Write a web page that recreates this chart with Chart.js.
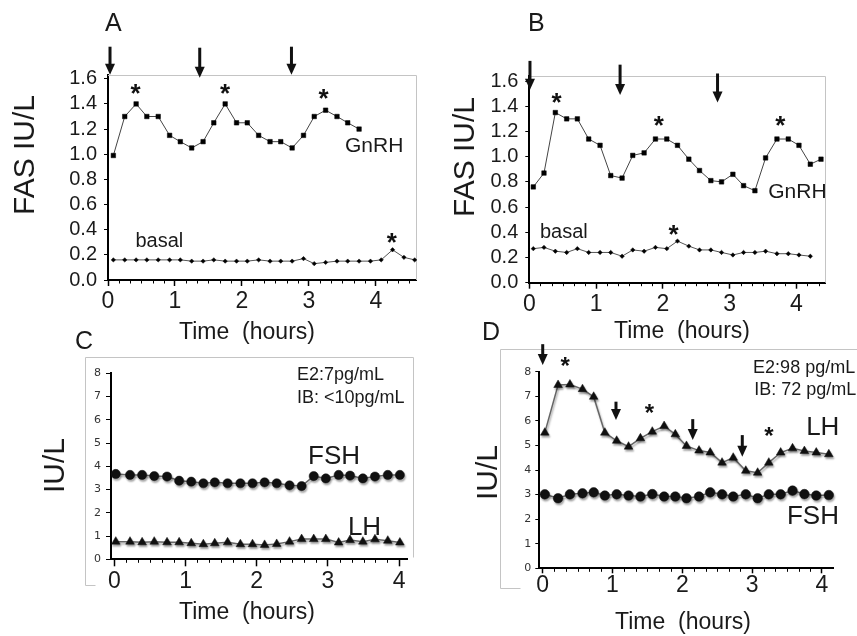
<!DOCTYPE html>
<html>
<head>
<meta charset="utf-8">
<script src="https://cdn.jsdelivr.net/npm/chart.js@4.4.1/dist/chart.umd.min.js"></script>
<style>
  body { margin: 0; background: #fff; width: 857px; height: 636px; position: relative; overflow: hidden; }
  canvas { position: absolute; }
</style>
</head>
<body>
<canvas id="cA" width="425" height="350" style="left:0;top:0"></canvas>
<canvas id="cB" width="432" height="350" style="left:425px;top:0"></canvas>
<canvas id="cC" width="425" height="318" style="left:0;top:318px"></canvas>
<canvas id="cD" width="432" height="318" style="left:425px;top:318px"></canvas>
<script>
// tick values
const xTicks = [0, 1, 2, 3, 4];
const yTicksAB = [0, 0.2, 0.4, 0.6, 0.8, 1.0, 1.2, 1.4, 1.6];
const yTicksCD = [0, 1, 2, 3, 4, 5, 6, 7, 8];

// A: FAS, GnRH vs basal (hours)
const timeA = [0.08, 0.25, 0.42, 0.58, 0.75, 0.92, 1.08, 1.25, 1.42, 1.58, 1.75, 1.92, 2.08, 2.25,
  2.42, 2.58, 2.75, 2.92, 3.08, 3.25, 3.42, 3.58, 3.75, 3.92, 4.08, 4.25, 4.42, 4.58];
const gnrhA = [0.99, 1.30, 1.40, 1.30, 1.30, 1.15, 1.10, 1.05, 1.10, 1.25, 1.40, 1.25, 1.25, 1.15,
  1.10, 1.10, 1.05, 1.15, 1.30, 1.35, 1.30, 1.25, 1.20];
const basalA = [0.16, 0.16, 0.16, 0.16, 0.16, 0.16, 0.16, 0.15, 0.15, 0.16, 0.15, 0.15, 0.15, 0.16,
  0.15, 0.15, 0.15, 0.17, 0.13, 0.14, 0.15, 0.15, 0.15, 0.15, 0.16, 0.24, 0.18, 0.16];
const pulsesA = [0.03, 1.37, 2.74];

// B
const timeB = [0.06, 0.22, 0.39, 0.56, 0.72, 0.89, 1.06, 1.22, 1.39, 1.55, 1.72, 1.89, 2.06, 2.22,
  2.39, 2.55, 2.72, 2.88, 3.05, 3.21, 3.38, 3.54, 3.71, 3.88, 4.04, 4.21, 4.37];
const gnrhB = [0.76, 0.87, 1.35, 1.30, 1.30, 1.14, 1.09, 0.85, 0.83, 1.01, 1.03, 1.14, 1.14, 1.09,
  0.98, 0.89, 0.81, 0.80, 0.86, 0.77, 0.73, 0.99, 1.14, 1.14, 1.09, 0.94, 0.98];
const basalB = [0.27, 0.28, 0.25, 0.24, 0.27, 0.24, 0.24, 0.24, 0.21, 0.26, 0.25, 0.28, 0.27, 0.33,
  0.29, 0.26, 0.26, 0.24, 0.22, 0.24, 0.24, 0.25, 0.23, 0.23, 0.22, 0.21];
const pulsesB = [0.01, 1.36, 2.82];

// C: low E2
const timeC = [0.02, 0.22, 0.39, 0.56, 0.74, 0.91, 1.08, 1.25, 1.41, 1.59, 1.77, 1.94, 2.11, 2.28,
  2.46, 2.63, 2.80, 2.97, 3.15, 3.31, 3.49, 3.66, 3.84, 4.01];
const fshC = [3.67, 3.63, 3.63, 3.58, 3.56, 3.38, 3.34, 3.27, 3.31, 3.27, 3.27, 3.27, 3.31, 3.27,
  3.18, 3.15, 3.58, 3.48, 3.63, 3.60, 3.48, 3.56, 3.63, 3.63];
const lhC = [0.76, 0.76, 0.73, 0.76, 0.73, 0.73, 0.69, 0.65, 0.69, 0.73, 0.65, 0.65, 0.62, 0.66,
  0.76, 0.87, 0.87, 0.87, 0.72, 0.83, 0.76, 0.86, 0.80, 0.72];

// D: high E2
const timeD = [0.03, 0.22, 0.39, 0.57, 0.73, 0.89, 1.06, 1.23, 1.40, 1.57, 1.74, 1.90, 2.06, 2.24,
  2.40, 2.57, 2.73, 2.91, 3.08, 3.24, 3.41, 3.58, 3.75, 3.92, 4.10];
const lhD = [5.52, 7.46, 7.48, 7.29, 6.98, 5.52, 5.19, 4.95, 5.29, 5.56, 5.79, 5.45, 4.98, 4.79,
  4.71, 4.30, 4.50, 3.97, 3.89, 4.30, 4.71, 4.88, 4.77, 4.71, 4.64];
const fshD = [3.01, 2.85, 3.01, 3.05, 3.09, 2.96, 3.01, 2.96, 2.92, 3.02, 2.92, 2.92, 2.85, 2.92,
  3.09, 3.01, 2.92, 3.01, 2.85, 3.01, 3.01, 3.16, 3.02, 2.96, 2.98];
const pulsesD = [0.0, 1.05, 2.15, 2.86];

const SANS = '"Liberation Sans", Arial, sans-serif';
const pts = (t, v) => v.map((y, i) => ({ x: t[i], y }));

function drawArrow(c, px, yTop, yTip) {
  c.save();
  c.strokeStyle = c.fillStyle = '#111';
  c.lineWidth = 3;
  c.beginPath(); c.moveTo(px, yTop); c.lineTo(px, yTip - 9); c.stroke();
  c.beginPath(); c.moveTo(px - 5, yTip - 11); c.lineTo(px + 5, yTip - 11); c.lineTo(px, yTip);
  c.closePath(); c.fill();
  c.restore();
}

function drawText(c, s, x, y, size, align, rot, family, color, weight) {
  c.save();
  c.translate(x, y);
  if (rot) c.rotate(rot);
  c.font = (weight ? weight + ' ' : '') + size + 'px ' + (family || SANS);
  c.fillStyle = color || '#1a1a1a';
  c.textAlign = align || 'center';
  c.textBaseline = 'middle';
  c.fillText(s, 0, 0);
  c.restore();
}

// extra drawing: frames, minor ticks, arrows, stars, labels
function decor(cfg) {
  return {
    id: 'decor',
    beforeDatasetsDraw(chart) {
      const c = chart.ctx, a = chart.chartArea, xs = chart.scales.x;
      c.save();
      c.strokeStyle = '#c4c4c4'; c.lineWidth = 1;
      if (cfg.box) {
        c.beginPath();
        c.moveTo(a.left, a.top + 0.5); c.lineTo(a.right + 0.5, a.top + 0.5); c.lineTo(a.right + 0.5, a.bottom);
        c.stroke();
      }
      if (cfg.frame) {
        c.beginPath();
        cfg.frame.forEach((p, i) => i ? c.lineTo(p[0] + 0.5, p[1] + 0.5) : c.moveTo(p[0] + 0.5, p[1] + 0.5));
        c.stroke();
      }
      c.strokeStyle = '#000';
      for (let k = Math.ceil(xs.min * 6); k <= xs.max * 6; k++) {
        if (k % 6 === 0) continue;
        const px = Math.round(xs.getPixelForValue(k / 6)) + 0.5;
        c.beginPath(); c.moveTo(px, a.bottom); c.lineTo(px, a.bottom + 3.5); c.stroke();
      }
      c.restore();
      if (cfg.shadow) {
        c.save();
        c.shadowColor = 'rgba(0,0,0,0.35)'; c.shadowOffsetX = 1; c.shadowOffsetY = 2; c.shadowBlur = 2;
      }
    },
    afterDatasetsDraw(chart) {
      if (cfg.shadow) chart.ctx.restore();
    },
    afterDraw(chart) {
      const c = chart.ctx, xs = chart.scales.x, ys = chart.scales.y;
      (cfg.arrows || []).forEach((t, i) => {
        const v = cfg.arrowY[i];
        drawArrow(c, xs.getPixelForValue(t), ys.getPixelForValue(v[0]), ys.getPixelForValue(v[1]));
      });
      (cfg.stars || []).forEach(s => {
        drawText(c, '*', xs.getPixelForValue(s[0]), ys.getPixelForValue(s[1]) + 0.24 * cfg.starSize,
          cfg.starSize, 'center', 0, SANS, '#111', 'bold');
      });
      (cfg.labels || []).forEach(l => {
        drawText(c, l.s, xs.getPixelForValue(l.x), ys.getPixelForValue(l.y), l.size, l.align || 'left', 0, l.family);
      });
      (cfg.texts || []).forEach(l => {
        drawText(c, l.s, l.px, l.py, l.size, l.align || 'center', l.rot ? -Math.PI / 2 : 0);
      });
    }
  };
}

function build(cfg) {
  const el = document.getElementById(cfg.id);
  const W = el.width, H = el.height, a = cfg.area;
  new Chart(el, {
    type: 'line',
    data: { datasets: cfg.datasets },
    options: {
      responsive: false,
      animation: false,
      events: [],
      layout: { padding: { top: a.top, left: 0, right: W - a.right, bottom: 0 } },
      plugins: { legend: { display: false }, tooltip: { enabled: false } },
      scales: {
        x: {
          type: 'linear', min: cfg.xr[0], max: cfg.xr[1],
          afterBuildTicks: s => { s.ticks = xTicks.map(v => ({ value: v })); },
          afterFit: s => { s.height = H - a.bottom; },
          border: { color: '#000', width: 2 },
          grid: { drawOnChartArea: false, tickColor: '#000', tickLength: cfg.xTl, tickWidth: 1.5 },
          ticks: { padding: cfg.xPad, autoSkip: false, maxRotation: 0, color: '#1a1a1a',
            font: { family: SANS, size: 23, lineHeight: 1 } }
        },
        y: {
          min: cfg.yr[0], max: cfg.yr[1],
          afterBuildTicks: s => { s.ticks = cfg.yTicks.map(v => ({ value: v })); },
          afterFit: s => { s.width = a.left; },
          border: { color: '#000', width: 2 },
          grid: { drawOnChartArea: false, tickColor: '#000', tickLength: cfg.yTl, tickWidth: 1 },
          ticks: { padding: cfg.yPad, color: cfg.yColor, callback: cfg.yFmt,
            font: { family: cfg.yFamily, size: cfg.yFont, lineHeight: 1 } }
        }
      }
    },
    plugins: [decor(cfg)]
  });
}

const fmt1 = v => v.toFixed(1);
const fmt0 = v => String(v);

build({
  id: 'cA', area: { left: 108, right: 416, top: 75, bottom: 280 },
  xr: [0, 4.60], yr: [0, 1.63], yTicks: yTicksAB, yFmt: fmt1,
  yFont: 20, yFamily: SANS, yColor: '#1a1a1a', yTl: 4, yPad: 7, xTl: 6, xPad: 4, box: true,
  datasets: [
    { data: pts(timeA, gnrhA), borderColor: '#444', borderWidth: 1, pointStyle: 'rect', pointRadius: 3.2,
      pointBackgroundColor: '#000', pointBorderColor: '#000', pointBorderWidth: 0.5, clip: false },
    { data: pts(timeA, basalA), borderColor: '#555', borderWidth: 1, pointStyle: 'rectRot', pointRadius: 2.2,
      pointBackgroundColor: '#000', pointBorderColor: '#000', pointBorderWidth: 0.5, clip: false }
  ],
  arrows: pulsesA, arrowY: [[1.855, 1.632], [1.847, 1.608], [1.855, 1.632]],
  stars: [[0.41, 1.52], [1.75, 1.52], [3.22, 1.48], [4.24, 0.34]], starSize: 26,
  labels: [{ s: 'GnRH', x: 3.54, y: 1.067, size: 21 }, { s: 'basal', x: 0.41, y: 0.31, size: 20 }],
  texts: [
    { s: 'A', px: 105, py: 24, size: 25, align: 'left' },
    { s: 'FAS IU/L', px: 26, py: 155, size: 30, rot: true },
    { s: 'Time  (hours)', px: 247, py: 333, size: 23 }
  ]
});

build({
  id: 'cB', area: { left: 104.3, right: 400, top: 76, bottom: 282.7 },
  xr: [0, 4.43], yr: [0, 1.64], yTicks: yTicksAB, yFmt: fmt1,
  yFont: 20, yFamily: SANS, yColor: '#1a1a1a', yTl: 4, yPad: 7, xTl: 6, xPad: 4, box: true,
  datasets: [
    { data: pts(timeB, gnrhB), borderColor: '#444', borderWidth: 1, pointStyle: 'rect', pointRadius: 3.2,
      pointBackgroundColor: '#000', pointBorderColor: '#000', pointBorderWidth: 0.5, clip: false },
    { data: pts(timeB, basalB), borderColor: '#555', borderWidth: 1, pointStyle: 'rectRot', pointRadius: 2.2,
      pointBackgroundColor: '#000', pointBorderColor: '#000', pointBorderWidth: 0.5, clip: false }
  ],
  arrows: pulsesB, arrowY: [[1.76, 1.53], [1.73, 1.49], [1.66, 1.43]],
  stars: [[0.41, 1.47], [1.94, 1.29], [3.76, 1.29], [2.16, 0.42]], starSize: 26,
  labels: [{ s: 'GnRH', x: 3.58, y: 0.72, size: 21 }, { s: 'basal', x: 0.16, y: 0.40, size: 20 }],
  texts: [
    { s: 'B', px: 103, py: 24, size: 25, align: 'left' },
    { s: 'FAS IU/L', px: 41, py: 157, size: 30, rot: true },
    { s: 'Time  (hours)', px: 257, py: 332, size: 23 }
  ]
});

build({
  id: 'cC', area: { left: 111, right: 407, top: 55.3, bottom: 241.3 },
  xr: [-0.047, 4.11], yr: [0, 8], yTicks: yTicksCD, yFmt: fmt0,
  yFont: 11, yFamily: '"DejaVu Sans", Verdana, sans-serif', yColor: '#333', yTl: 5, yPad: 5, xTl: 7, xPad: 4,
  shadow: true, frame: [[413, 239], [413, 39], [85, 39], [85, 267], [95, 267]],
  datasets: [
    { data: pts(timeC, fshC), borderColor: '#666', borderWidth: 1.5, pointStyle: 'circle', pointRadius: 4.6,
      pointBackgroundColor: '#111', pointBorderColor: '#111', pointBorderWidth: 0.5, clip: false },
    { data: pts(timeC, lhC), borderColor: '#666', borderWidth: 1.5, pointStyle: 'triangle', pointRadius: 5,
      pointBackgroundColor: '#111', pointBorderColor: '#111', pointBorderWidth: 0.5, clip: false }
  ],
  labels: [
    { s: 'E2:7pg/mL', x: 2.566, y: 7.93, size: 18 },
    { s: 'IB: <10pg/mL', x: 2.566, y: 6.94, size: 18 },
    { s: 'FSH', x: 2.72, y: 4.40, size: 26 },
    { s: 'LH', x: 3.28, y: 1.35, size: 26 }
  ],
  texts: [
    { s: 'C', px: 75, py: 24.5, size: 25, align: 'left' },
    { s: 'IU/L', px: 56, py: 147.5, size: 30, rot: true },
    { s: 'Time  (hours)', px: 247, py: 295, size: 23 }
  ]
});

build({
  id: 'cD', area: { left: 114.3, right: 408, top: 53.7, bottom: 250.3 },
  xr: [-0.049, 4.16], yr: [0, 8], yTicks: yTicksCD, yFmt: fmt0,
  yFont: 11, yFamily: '"DejaVu Sans", Verdana, sans-serif', yColor: '#333', yTl: 4, yPad: 4, xTl: 5, xPad: 1,
  shadow: true, frame: [[445, 31], [75, 31], [75, 270], [95, 270]],
  datasets: [
    { data: pts(timeD, lhD), borderColor: '#666', borderWidth: 1.5, pointStyle: 'triangle', pointRadius: 5,
      pointBackgroundColor: '#111', pointBorderColor: '#111', pointBorderWidth: 0.5, clip: false },
    { data: pts(timeD, fshD), borderColor: '#666', borderWidth: 1.5, pointStyle: 'circle', pointRadius: 4.8,
      pointBackgroundColor: '#111', pointBorderColor: '#111', pointBorderWidth: 0.5, clip: false }
  ],
  arrows: pulsesD, arrowY: [[9.12, 8.27], [6.78, 6.03], [6.07, 5.22], [5.42, 4.54]],
  stars: [[0.32, 8.40], [1.53, 6.50], [3.24, 5.55]], starSize: 24,
  labels: [
    { s: 'E2:98 pg/mL', x: 3.015, y: 8.14, size: 18 },
    { s: 'IB: 72 pg/mL', x: 3.03, y: 7.25, size: 18 },
    { s: 'LH', x: 3.775, y: 5.70, size: 26 },
    { s: 'FSH', x: 3.50, y: 2.09, size: 26 }
  ],
  texts: [
    { s: 'D', px: 57, py: 15, size: 25, align: 'left' },
    { s: 'IU/L', px: 63.5, py: 154.5, size: 30, rot: true },
    { s: 'Time  (hours)', px: 258, py: 305, size: 23 }
  ]
});
</script>
</body>
</html>
